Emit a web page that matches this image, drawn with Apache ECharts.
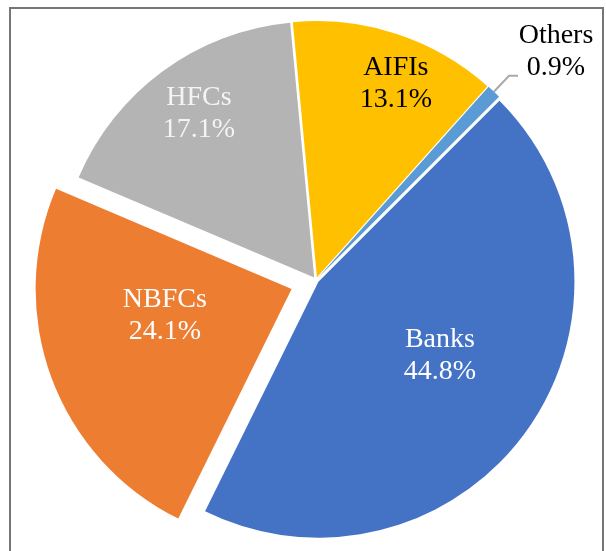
<!DOCTYPE html>
<html>
<head>
<meta charset="utf-8">
<script src="https://cdn.jsdelivr.net/npm/echarts@6/dist/echarts.min.js"></script>
<style>
  html, body { margin: 0; padding: 0; background: #ffffff; }
  #chart { width: 606px; height: 551px; }
</style>
</head>
<body>
<div id="chart"></div>
<script>
// Share of outstanding credit by lender type (%)
const categories = ['Banks', 'NBFCs', 'HFCs', 'AIFIs', 'Others'];
const shares = [44.8, 24.1, 17.1, 13.1, 0.9];
const sliceColors = ['#4472C4', '#ED7D31', '#B4B4B4', '#FFC000', '#5B9BD5'];
const labelColors = ['#ffffff', '#ffffff', '#f4f4f4', '#000000', '#000000'];

// NBFCs is pulled well out of the pie; every other slice is only slightly exploded
const pulledOut = 'NBFCs';
const outsideLabel = 'Others';

const FONT = '"Liberation Serif", "Times New Roman", serif';

// shift of each inside label from ECharts' default anchor (half radius)
const labelShift = {
  Banks: [15, -2],
  NBFCs: [-4, -19],
  HFCs: [-38, -58],
  AIFIs: [38, -69]
};

function pctText(name, value) {
  return name + '\n' + value.toFixed(1) + '%';
}

function buildPie(seriesName, isShown, offset) {
  return {
    type: 'pie',
    name: seriesName,
    center: [316, 280],
    radius: 256,
    startAngle: 45,
    clockwise: true,
    selectedMode: 'multiple',
    selectedOffset: offset,
    avoidLabelOverlap: false,
    silent: true,
    animation: false,
    label: {
      show: true,
      position: 'inside',
      fontFamily: FONT,
      fontSize: 28,
      lineHeight: 32,
      formatter: p => pctText(p.name, p.value)
    },
    labelLine: { show: false },
    labelLayout: params => {
      const shift = labelShift[categories[params.dataIndex]];
      if (!shift) return;
      return { dx: shift[0], dy: shift[1] };
    },
    data: categories.map((name, i) => {
      const shown = isShown(name);
      const item = {
        name: name,
        value: shares[i],
        selected: shown,
        itemStyle: { color: sliceColors[i], opacity: shown ? 1 : 0 },
        label: { show: shown, color: labelColors[i] }
      };
      if (shown && name === outsideLabel) {
        item.label = {
          show: true,
          position: 'outside',
          distanceToLabelLine: 0,
          padding: [0, 0, 48, 0],
          formatter: p => '{t|' + p.name + '}\n{t|' + p.value.toFixed(1) + '%}',
          rich: {
            t: {
              width: 76,
              align: 'center',
              fontFamily: FONT,
              fontSize: 28,
              lineHeight: 32,
              color: labelColors[i]
            }
          }
        };
        item.labelLine = {
          show: true,
          length: 22,
          length2: 9,
          lineStyle: { color: '#A9A9A9', width: 2 }
        };
      }
      return item;
    })
  };
}

const chart = echarts.init(document.getElementById('chart'), null, { renderer: 'canvas' });
chart.setOption({
  backgroundColor: '#ffffff',
  animation: false,
  graphic: [{
    type: 'rect',
    silent: true,
    z: 10,
    shape: { x: 10, y: 8, width: 593, height: 600 },
    style: { fill: 'none', stroke: '#767676', lineWidth: 2 }
  }],
  series: [
    buildPie('slices', name => name !== pulledOut, 3),
    buildPie('pulled', name => name === pulledOut, 26)
  ]
});
</script>
</body>
</html>
